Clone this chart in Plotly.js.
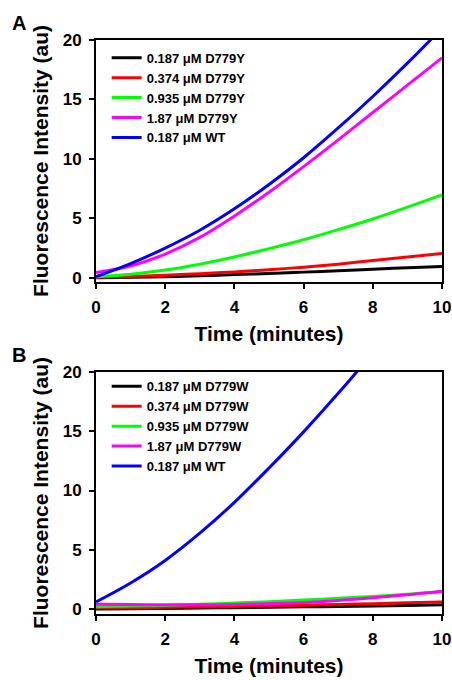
<!DOCTYPE html>
<html><head><meta charset="utf-8">
<script src="https://cdn.plot.ly/plotly-3.0.1.min.js"></script>
<style>body{margin:0;padding:0;background:#fff}#chart{width:452px;height:680px}</style>
</head><body><div id="chart"></div>
<script>
// Panel A data
const timeA = [0,1,2,3,4,5,6,7,8,9,10];
const namesA = ["0.187 \u03bcM D779Y","0.374 \u03bcM D779Y","0.935 \u03bcM D779Y","1.87 \u03bcM D779Y","0.187 \u03bcM WT"];
const blackA = [0,0.05,0.1,0.18,0.27,0.37,0.48,0.6,0.72,0.85,0.95];
const redA = [0.05,0.12,0.22,0.35,0.5,0.68,0.9,1.15,1.45,1.75,2.05];
const greenA = [0.1,0.3,0.65,1.15,1.75,2.45,3.2,4.05,4.95,5.95,6.97];
const magentaA = [0.45,1.0,2.0,3.4,5.2,7.2,9.35,11.6,13.9,16.2,18.5];
const blueA = [0.1,1.2,2.5,4.0,5.8,7.85,10.1,12.6,15.25,18.05,21.0];
// Panel B data
const timeB = [0,1,2,3,4,5,6,7,8,9,10];
const namesB = ["0.187 \u03bcM D779W","0.374 \u03bcM D779W","0.935 \u03bcM D779W","1.87 \u03bcM D779W","0.187 \u03bcM WT"];
const blackB = [0,0.02,0.05,0.08,0.11,0.15,0.18,0.22,0.26,0.3,0.35];
const redB = [0.1,0.12,0.15,0.18,0.22,0.27,0.32,0.38,0.45,0.52,0.6];
const greenB = [0.2,0.25,0.3,0.4,0.5,0.62,0.75,0.9,1.05,1.25,1.45];
const magentaB = [0.4,0.38,0.36,0.36,0.38,0.45,0.55,0.72,0.95,1.2,1.5];
const timeBWT = [0,1,2,3,4,5,6,7,8];
const blueB = [0.6,2.2,4.1,6.4,9.0,11.9,14.95,18.2,21.6];

const colors = ["#000000","#ff0000","#00ff00","#ff00ff","#0000ff"];
const F = "Arial, 'Liberation Sans', sans-serif";

const traces = [];
[blackA,redA,greenA,magentaA,blueA].forEach((ys,i)=>{
  traces.push({x:timeA,y:ys,name:namesA[i],type:'scatter',mode:'lines',line:{color:colors[i],width:3,shape:'spline'},xaxis:'x',yaxis:'y',legend:'legend'});
});
[blackB,redB,greenB,magentaB,blueB].forEach((ys,i)=>{
  traces.push({x:i===4?timeBWT:timeB,y:ys,name:namesB[i],type:'scatter',mode:'lines',line:{color:colors[i],width:3,shape:'spline'},xaxis:'x2',yaxis:'y2',legend:'legend2'});
});

function xax(anchor){return {domain:[0.2124,0.9779],range:[0,10],anchor:anchor,showgrid:false,zeroline:false,
  showline:true,linecolor:'#000',linewidth:2,mirror:true,ticks:'outside',ticklen:5,tickwidth:2,tickcolor:'#000',ticklabelstandoff:4,
  tickvals:[0,2,4,6,8,10],tickfont:{family:F,size:17,color:'#000',weight:'bold'},
  title:{text:'<b>Time (minutes)</b>',font:{family:F,size:21,color:'#000'},standoff:10}};}
function yax(anchor,dom,lo){return {domain:dom,range:[lo,20],anchor:anchor,showgrid:false,zeroline:false,
  showline:true,linecolor:'#000',linewidth:2,mirror:true,ticks:'outside',ticklen:5,tickwidth:2,tickcolor:'#000',ticklabelstandoff:4,
  tickvals:[0,5,10,15,20],tickfont:{family:F,size:17,color:'#000',weight:'bold'},
  title:{text:'<b>Fluorescence Intensity (au)</b>',font:{family:F,size:21,color:'#000'},standoff:8}};}

const leg = (y)=>({x:0.236,y:y,xanchor:'left',yanchor:'top',bgcolor:'rgba(0,0,0,0)',borderwidth:0,
  font:{family:F,size:13,color:'#000',weight:'bold'},tracegroupgap:0});

const layout = {
  width:452,height:680,margin:{l:0,r:0,t:0,b:0},paper_bgcolor:'#fff',plot_bgcolor:'#fff',
  xaxis:xax('y'),yaxis:yax('x',[0.5853,0.9412],-0.35),
  xaxis2:xax('y2'),yaxis2:yax('x2',[0.0971,0.4529],-0.42),
  showlegend:true,
  legend:leg(0.937),legend2:leg(0.4538),
  annotations:[
    {text:'<b>A</b>',xref:'paper',yref:'paper',x:18.5/452,y:1-23.5/680,xanchor:'center',yanchor:'middle',showarrow:false,font:{family:F,size:20,color:'#000'}},
    {text:'<b>B</b>',xref:'paper',yref:'paper',x:18.5/452,y:1-354.5/680,xanchor:'center',yanchor:'middle',showarrow:false,font:{family:F,size:20,color:'#000'}}
  ]
};
Plotly.newPlot('chart',traces,layout,{displayModeBar:false,staticPlot:true});
</script></body></html>
